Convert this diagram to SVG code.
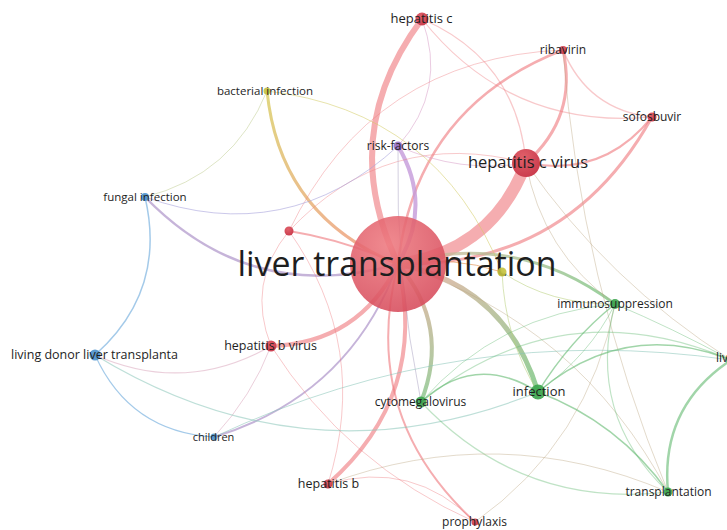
<svg xmlns="http://www.w3.org/2000/svg" width="727" height="530" viewBox="0 0 727 530">
<defs>
<radialGradient id="gLT" cx="0.4" cy="0.3" r="0.8">
<stop offset="0" stop-color="#ee7a80"/>
<stop offset="1" stop-color="#d44657"/>
</radialGradient>
<radialGradient id="gR" cx="0.4" cy="0.3" r="0.8">
<stop offset="0" stop-color="#e0606a"/>
<stop offset="1" stop-color="#c8384a"/>
</radialGradient>
<linearGradient id="gInf" gradientUnits="userSpaceOnUse" x1="440" y1="270" x2="538" y2="392">
<stop offset="0" stop-color="#d4a890"/>
<stop offset="1" stop-color="#6cbf74"/>
</linearGradient>
<linearGradient id="gCmv" gradientUnits="userSpaceOnUse" x1="430" y1="300" x2="421" y2="402">
<stop offset="0" stop-color="#c8a888"/>
<stop offset="1" stop-color="#7cc080"/>
</linearGradient>
<linearGradient id="gImm" gradientUnits="userSpaceOnUse" x1="440" y1="255" x2="615" y2="304">
<stop offset="0" stop-color="#c8b898"/>
<stop offset="1" stop-color="#74c27c"/>
</linearGradient>
<linearGradient id="gBact" gradientUnits="userSpaceOnUse" x1="267" y1="91" x2="360" y2="250">
<stop offset="0" stop-color="#d8cc60"/>
<stop offset="1" stop-color="#ee9a78"/>
</linearGradient>
</defs>
<style>
.e{fill:none;stroke-linecap:round}
.r{stroke:#ee777c;stroke-opacity:.6}
.rl{stroke:#ee777c;stroke-opacity:.4}
.g{stroke:#62b970;stroke-opacity:.6}
.gl{stroke:#62b970;stroke-opacity:.4}
.b{stroke:#7db4e0;stroke-opacity:.7}
.y{stroke:#d4cc66;stroke-opacity:.55}
.p{stroke:#c49ada;stroke-opacity:.8}
.rg{stroke:#b8a27c;stroke-opacity:.55}
.rgl{stroke:#b8a27c;stroke-opacity:.4}
.rb{stroke:#a88cc4;stroke-opacity:.65}
.rbl{stroke:#d8a0b8;stroke-opacity:.5}
.ry{stroke:#e6a268;stroke-opacity:.75}
.rp{stroke:#d8a0c8;stroke-opacity:.55}
.gb{stroke:#88c4b8;stroke-opacity:.55}
.yg{stroke:#b8d07c;stroke-opacity:.55}
.yb{stroke:#c8d4a0;stroke-opacity:.6}
.bp{stroke:#a8a4dc;stroke-opacity:.6}
.pg{stroke:#a8a0c0;stroke-opacity:.5}
.nr{fill:url(#gR)}
.ng{fill:#3ba44c;fill-opacity:.9}
.nb{fill:#4a90cc;fill-opacity:.9}
.ny{fill:#c4c23e;fill-opacity:.9}
.np{fill:#9068c0;fill-opacity:.85}
text{font-family:"Open Sans","Noto Sans","Liberation Sans",sans-serif;fill:#1e1e1e;text-anchor:middle}
</style>
<g id="connectors">
<path class="e r" stroke-width="6" d="M398 264 Q336 134 422 19"/>
<path class="e r" stroke-width="12" d="M398 264 Q492 252 526 163"/>
<path class="e r" stroke-width="2.5" d="M398 264 Q416 107 563 50"/>
<path class="e r" stroke-width="3" d="M398 264 Q569 267 652 117"/>
<path class="e" stroke="url(#gBact)" stroke-opacity=".8" stroke-width="3" d="M398 264 Q280 217 267 91"/>
<path class="e p" stroke-width="4" d="M398 264 Q433 205 398 146"/>
<path class="e rb" stroke-width="2.5" d="M398 264 Q251 306 145 197"/>
<path class="e r" stroke-width="2" d="M398 264 Q345 240 289 231"/>
<path class="e r" stroke-width="4" d="M398 264 Q359 343 271 346"/>
<path class="e rb" stroke-width="2" d="M398 264 Q349 396 214 437"/>
<path class="e r" stroke-width="4" d="M398 264 Q429 395 328 484"/>
<path class="e" stroke="url(#gCmv)" stroke-opacity=".75" stroke-width="4" d="M398 264 Q451 326 421 402"/>
<path class="e" stroke="url(#gInf)" stroke-opacity=".75" stroke-width="5" d="M398 264 Q506 286 538 392"/>
<path class="e" stroke="url(#gImm)" stroke-opacity=".75" stroke-width="3" d="M398 264 Q516 230 615 304"/>
<path class="e r" stroke-width="2" d="M398 264 Q359 416 475 522"/>
<path class="e rgl" stroke-width="1" d="M398 264 Q579 324 668 492"/>
<path class="e ry" stroke-width="1" d="M398 264 Q450 255 502 272"/>
<path class="e rl" stroke-width="1.2" d="M422 19 Q517 60 526 163"/>
<path class="e rl" stroke-width="1.2" d="M422 19 Q510 130 652 117"/>
<path class="e r" stroke-width="3" d="M563 50 Q578 117 526 163"/>
<path class="e r" stroke-width="2" d="M652 117 Q603 178 526 163"/>
<path class="e rl" stroke-width="1.5" d="M563 50 Q588 110 652 117"/>
<path class="e rp" stroke-width="1" d="M422 19 Q448 90 398 146"/>
<path class="e rl" stroke-width="1" d="M289 231 Q372 58 563 50"/>
<path class="e rl" stroke-width="1" d="M289 231 Q246 283 271 346"/>
<path class="e rl" stroke-width="1" d="M289 231 Q371 347 328 484"/>
<path class="e rl" stroke-width="1" d="M271 346 Q347 465 475 522"/>
<path class="e rbl" stroke-width="1" d="M271 346 Q252 396 214 437"/>
<path class="e rl" stroke-width="1" d="M328 484 Q413 459 475 522"/>
<path class="e rl" stroke-width="1" d="M526 163 Q387 126 289 231"/>
<path class="e rp" stroke-width="1" d="M398 146 Q460 174 526 163"/>
<path class="e rgl" stroke-width="1" d="M526 163 Q542 252 615 304"/>
<path class="e rgl" stroke-width="1" d="M526 163 Q608 282 731 360"/>
<path class="e rgl" stroke-width="1" d="M563 50 Q580 279 668 492"/>
<path class="e rgl" stroke-width="1" d="M475 522 Q589 441 615 304"/>
<path class="e b" stroke-width="1.5" d="M145 197 Q167 291 95 355"/>
<path class="e yb" stroke-width="1" d="M267 91 Q233 175 145 197"/>
<path class="e bp" stroke-width="1" d="M145 197 Q287 248 398 146"/>
<path class="e b" stroke-width="1.2" d="M95 355 Q130 432 214 437"/>
<path class="e gb" stroke-width="1.2" d="M95 355 Q308 485 538 392"/>
<path class="e rbl" stroke-width="1.2" d="M95 355 Q185 395 271 346"/>
<path class="e gb" stroke-width="1" d="M214 437 Q461 321 731 360"/>
<path class="e g" stroke-width="1.5" d="M538 392 Q570 340 615 304"/>
<path class="e gl" stroke-width="1" d="M538 392 Q590 355 615 304"/>
<path class="e g" stroke-width="1.5" d="M538 392 Q618 422 668 492"/>
<path class="e g" stroke-width="1.5" d="M538 392 Q625 318 731 360"/>
<path class="e gl" stroke-width="1.2" d="M615 304 Q586 414 668 492"/>
<path class="e g" stroke-width="2.5" d="M668 492 Q660 407 731 360"/>
<path class="e gl" stroke-width="1" d="M615 304 Q672 328 731 360"/>
<path class="e g" stroke-width="1.5" d="M421 402 Q475 352 538 392"/>
<path class="e gl" stroke-width="1.2" d="M421 402 Q522 509 668 492"/>
<path class="e gl" stroke-width="1.2" d="M421 402 Q563 288 731 360"/>
<path class="e gl" stroke-width="1" d="M421 402 Q498 314 615 304"/>
<path class="e rgl" stroke-width="1" d="M328 484 Q500 420 668 492"/>
<path class="e y" stroke-width="1" d="M267 91 Q438 111 502 272"/>
<path class="e yg" stroke-width="1" d="M502 272 Q550 305 615 304"/>
<path class="e yg" stroke-width="1" d="M502 272 Q505 340 538 392"/>
<path class="e pg" stroke-width="1" d="M398 146 Q395 274 421 402"/>
</g>
<g id="n-liver-transplantation"><circle cx="398" cy="264" r="48" fill="url(#gLT)" fill-opacity=".88"/><text x="397" y="276" font-size="34" textLength="319" lengthAdjust="spacingAndGlyphs">liver transplantation</text></g>
<g id="n-hepatitis-c-virus"><circle cx="526" cy="163" r="14" class="nr"/><text x="528" y="168" font-size="16.5">hepatitis c virus</text></g>
<g id="n-hepatitis-c"><circle cx="422" cy="19" r="6.5" class="nr"/><text x="421.5" y="23" font-size="13">hepatitis c</text></g>
<g id="n-ribavirin"><circle cx="563" cy="50" r="4" class="nr"/><text x="563" y="54" font-size="12">ribavirin</text></g>
<g id="n-sofosbuvir"><circle cx="652" cy="117" r="4.5" class="nr"/><text x="652" y="121" font-size="12">sofosbuvir</text></g>
<g id="n-bacterial-infection"><circle cx="267" cy="91" r="3.5" class="ny"/><text x="265" y="95" font-size="11.5">bacterial infection</text></g>
<g id="n-risk-factors"><circle cx="398" cy="146" r="4.5" class="np"/><text x="398" y="150" font-size="12">risk-factors</text></g>
<g id="n-fungal-infection"><circle cx="145" cy="197" r="4" class="nb"/><text x="145" y="201" font-size="11.5">fungal infection</text></g>
<g id="n-unlabelled"><circle cx="289" cy="231" r="4.5" class="nr"/></g>
<g id="n-yellow"><circle cx="502" cy="272" r="4.5" class="ny"/></g>
<g id="n-living-donor"><circle cx="95" cy="355" r="5.5" class="nb"/><text x="94.5" y="359" font-size="12.5">living donor liver transplanta</text></g>
<g id="n-hepatitis-b-virus"><circle cx="271" cy="346" r="5.5" class="nr"/><text x="270.5" y="350" font-size="12.5">hepatitis b virus</text></g>
<g id="n-children"><circle cx="214" cy="437" r="3.5" class="nb"/><text x="213.5" y="441" font-size="11">children</text></g>
<g id="n-cytomegalovirus"><circle cx="421" cy="402" r="5.5" class="ng"/><text x="420.5" y="406" font-size="12">cytomegalovirus</text></g>
<g id="n-infection"><circle cx="538" cy="392" r="7.5" class="ng"/><text x="539" y="396" font-size="13">infection</text></g>
<g id="n-immunosuppression"><circle cx="615" cy="304" r="5" class="ng"/><text x="615" y="308" font-size="12">immunosuppression</text></g>
<g id="n-transplantation"><circle cx="668" cy="492" r="4.5" class="ng"/><text x="668.5" y="496" font-size="12">transplantation</text></g>
<g id="n-liv"><circle cx="731" cy="360" r="5" class="ng"/><text x="716" y="362" font-size="12" style="text-anchor:start">liv</text></g>
<g id="n-hepatitis-b"><circle cx="328" cy="484" r="4.5" class="nr"/><text x="328.5" y="488" font-size="12.5">hepatitis b</text></g>
<g id="n-prophylaxis"><circle cx="475" cy="522" r="3.5" class="nr"/><text x="474.5" y="526" font-size="12">prophylaxis</text></g>
</svg>
